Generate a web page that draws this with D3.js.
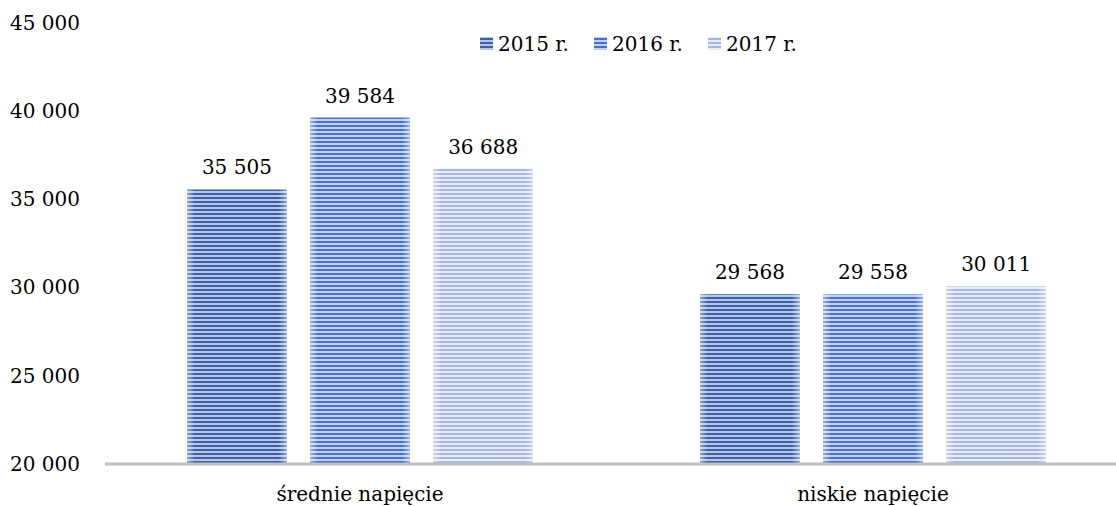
<!DOCTYPE html>
<html>
<head>
<meta charset="utf-8">
<script src="https://cdn.jsdelivr.net/npm/d3@7"></script>
<style>
body { margin: 0; background: #fff; }
svg text { font-family: "DejaVu Serif", "Liberation Serif", serif; fill: #000; }
</style>
</head>
<body>
<svg id="chart" width="1116" height="506"></svg>
<script>
var categories = ["średnie napięcie", "niskie napięcie"];
var years = ["2015 r.", "2016 r.", "2017 r."];
var values2015 = [35505, 29568];
var values2016 = [39584, 29558];
var values2017 = [36688, 30011];
var yTicks = [20000, 25000, 30000, 35000, 40000, 45000];

var series = [values2015, values2016, values2017];
var stripeDark = ["#3d61a8", "#4673c6", "#a7b6e0"];
var stripeLight = ["#b7c6e6", "#c0d0ee", "#e8ecf7"];

var fmt = function(v) { return d3.format(",")(v).replace(/,/g, " "); };

var svg = d3.select("#chart");
var defs = svg.append("defs");

stripeDark.forEach(function(c, i) {
	var p = defs.append("pattern")
		.attr("id", "stripe" + i)
		.attr("patternUnits", "userSpaceOnUse")
		.attr("width", 8)
		.attr("height", 4);
	p.append("rect").attr("width", 8).attr("height", 4).attr("fill", stripeLight[i]);
	p.append("rect").attr("y", 1).attr("width", 8).attr("height", 2).attr("fill", c);
});

// soft light edges on the sides of each bar
var edge = defs.append("linearGradient").attr("id", "edge").attr("x1", 0).attr("x2", 1);
edge.append("stop").attr("offset", 0).attr("stop-color", "#fff").attr("stop-opacity", 0.45);
edge.append("stop").attr("offset", 0.08).attr("stop-color", "#fff").attr("stop-opacity", 0);
edge.append("stop").attr("offset", 0.92).attr("stop-color", "#fff").attr("stop-opacity", 0);
edge.append("stop").attr("offset", 1).attr("stop-color", "#fff").attr("stop-opacity", 0.45);

var yScale = d3.scaleLinear().domain([20000, 45000]).range([463, 22]);
var x0 = d3.scaleBand().domain(categories).range([103.5, 1129.5]).paddingInner(0).paddingOuter(0);
var x1 = d3.scaleBand().domain(d3.range(years.length)).range([-173, 173]).paddingInner(0.19);

// y axis labels
var yAxis = d3.axisLeft(yScale).tickValues(yTicks).tickFormat(fmt).tickSize(0);
var gy = svg.append("g").attr("transform", "translate(10,0)").call(yAxis);
gy.select(".domain").remove();
gy.selectAll("text")
	.attr("x", 0)
	.attr("dy", "0.36em")
	.attr("text-anchor", "start")
	.style("font-size", "20px")
	.style("font-family", "'DejaVu Serif', serif");

// bars
var groups = svg.selectAll(".category")
	.data(categories)
	.enter().append("g")
	.attr("class", "category")
	.attr("transform", function(d) { return "translate(" + (x0(d) + x0.bandwidth() / 2) + ",0)"; });

groups.each(function(cat, ci) {
	var g = d3.select(this);
	series.forEach(function(vals, si) {
		var v = vals[ci];
		var bx = x1(si), bw = x1.bandwidth();
		g.append("rect")
			.attr("x", bx).attr("y", yScale(v))
			.attr("width", bw).attr("height", yScale(20000) - yScale(v))
			.attr("fill", "url(#stripe" + si + ")");
		g.append("rect")
			.attr("x", bx).attr("y", yScale(v))
			.attr("width", bw).attr("height", yScale(20000) - yScale(v))
			.attr("fill", "url(#edge)");
		g.append("text")
			.attr("x", bx + bw / 2)
			.attr("y", yScale(v) - 15)
			.attr("text-anchor", "middle")
			.style("font-size", "20px")
			.text(fmt(v));
	});
});

// x axis
var xAxis = d3.axisBottom(x0).tickSize(0).tickPadding(24);
var gx = svg.append("g").attr("transform", "translate(0," + yScale(20000) + ")").call(xAxis);
gx.select(".domain").remove();
gx.selectAll("text").style("font-size", "20px").style("font-family", "'DejaVu Serif', serif");
svg.append("line")
	.attr("x1", 105).attr("x2", 1116)
	.attr("y1", yScale(20000) + 1).attr("y2", yScale(20000) + 1)
	.attr("stroke", "#bfbfbf").attr("stroke-width", 3);

// legend
var legend = svg.append("g").selectAll("g")
	.data(years)
	.enter().append("g")
	.attr("transform", function(d, i) { return "translate(" + (480 + i * 114) + ",37)"; });
legend.append("rect")
	.attr("width", 13).attr("height", 13)
	.attr("fill", function(d, i) { return "url(#stripe" + i + ")"; });
legend.append("text")
	.attr("x", 18).attr("y", 14)
	.style("font-size", "20px")
	.text(function(d) { return d; });
</script>
</body>
</html>
